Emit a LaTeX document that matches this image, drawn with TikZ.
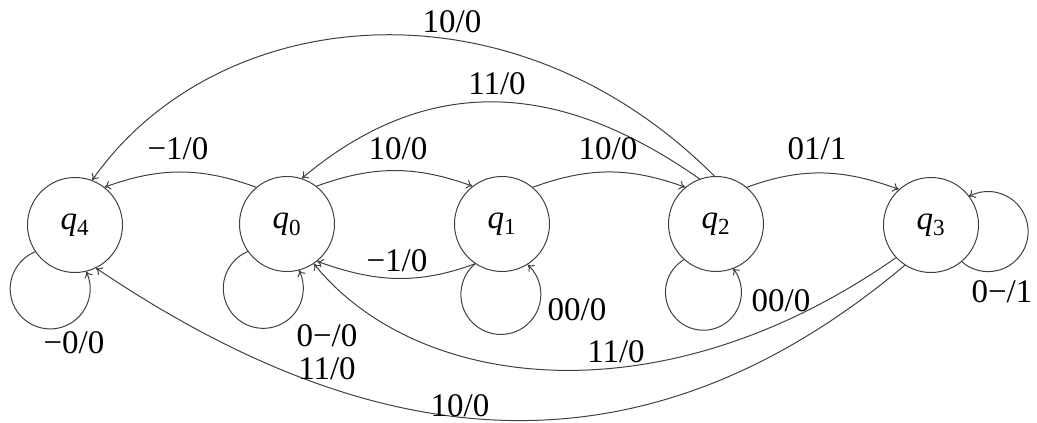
\documentclass[tikz,border=0pt]{standalone}
\usepackage{fontspec}
\setmainfont{Liberation Serif}
\usetikzlibrary{arrows.meta}
% state name: italic q with a numeric subscript
\newcommand\statelabel[1]{\textit{q}\textsubscript{#1}}
\begin{document}
\begin{tikzpicture}[x=1pt,y=1pt,
  state/.style={circle,draw=black!75,line width=1pt,minimum size=95pt,inner sep=0pt,
                font=\fontsize{33}{38}\selectfont},
  edgeline/.style={draw=black!75,line width=1pt,-{To[length=6pt,width=9pt]}},
  lbl/.style={inner sep=0pt,font=\fontsize{33}{38}\selectfont}]
\useasboundingbox (0,0) rectangle (1037,423);

% states
\node[state] (q4) at (75,198)  {\statelabel{4}};
\node[state] (q0) at (287,199) {\statelabel{0}};
\node[state] (q1) at (502,199) {\statelabel{1}};
\node[state] (q2) at (716,199) {\statelabel{2}};
\node[state] (q3) at (931,198) {\statelabel{3}};

% transitions between neighbours
\draw[edgeline] (q0.52)  to[out=20,in=160]  (q1.128);
\draw[edgeline] (q1.50)  to[out=20,in=160]  (q2.130);
\draw[edgeline] (q2.50)  to[out=20,in=160]  (q3.132);
\draw[edgeline] (q0.130) to[out=160,in=20]  (q4.52);
\draw[edgeline] (q1.236) to[out=200,in=-20] (q0.309);

% long transitions
\draw[edgeline] (q2.110) .. controls +(145:168) and +(40:168) .. (q0.72);
\draw[edgeline] (q2.92)  .. controls +(135:290) and +(55:215) .. (q4.69);
\draw[edgeline] (q3.223) .. controls +(215:285) and +(-51:165) .. (q0.304);
\draw[edgeline] (q3.237) .. controls +(220:341) and +(-34:341) .. (q4.296);

% self loops
\draw[edgeline] (q4.214) arc[start angle=112, end angle=386, radius=40];
\draw[edgeline] (q0.215) arc[start angle=113, end angle=387, radius=40];
\draw[edgeline] (q1.236) arc[start angle=130, end angle=408, radius=40];
\draw[edgeline] (q2.228) arc[start angle=121, end angle=399, radius=38];
\draw[edgeline] (q3.310) arc[start angle=229, end angle=479, radius=40];

% transition labels
\node[lbl] (t1)  at (452,401) {10/0};
\node[lbl] (t2)  at (497,339) {11/0};
\node[lbl] (t3)  at (178,274) {−1/0};
\node[lbl] (t4)  at (398,274) {10/0};
\node[lbl] (t5)  at (608,274) {10/0};
\node[lbl] (t6)  at (817,274) {01/1};
\node[lbl] (t7)  at (397,162) {−1/0};
\node[lbl] (t8)  at (74,80)   {−0/0};
\node[lbl] (t9)  at (327,87)  {0−/0};
\node[lbl] (t10) at (327,54)  {11/0};
\node[lbl] (t11) at (460,17)  {10/0};
\node[lbl] (t12) at (577,113) {00/0};
\node[lbl] (t13) at (781,122) {00/0};
\node[lbl] (t14) at (616,71)  {11/0};
\node[lbl] (t15) at (1002,131) {0−/1};
\end{tikzpicture}
\end{document}
